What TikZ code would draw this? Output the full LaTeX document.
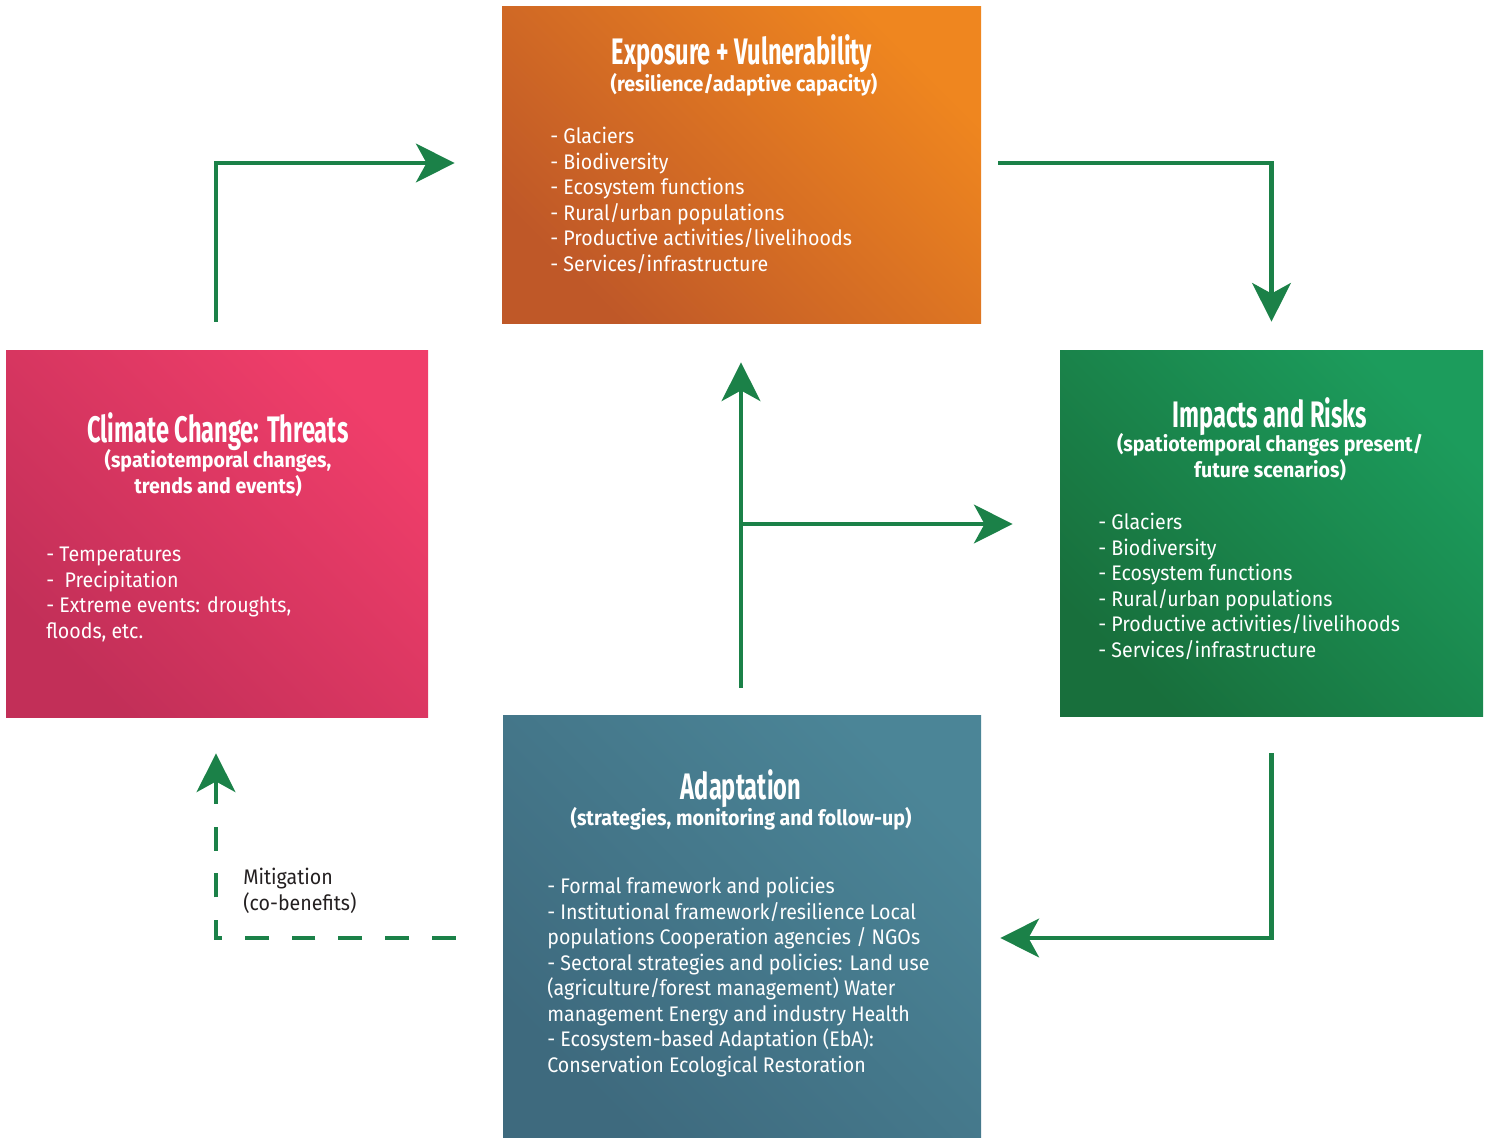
\documentclass[tikz,border=0pt]{standalone}
\usepackage{fontspec}
\setmainfont{Fira Sans}[FakeStretch=0.93]
\newfontfamily\headfont{Fira Sans}[FakeStretch=0.64]
\usetikzlibrary{arrows.meta, positioning, calc}
\definecolor{expolight}{HTML}{EF861F}
\definecolor{expodark}{HTML}{BF5828}
\definecolor{threatlight}{HTML}{F03E6A}
\definecolor{threatdark}{HTML}{C22F58}
\definecolor{impactlight}{HTML}{1C9C5C}
\definecolor{impactdark}{HTML}{186F3C}
\definecolor{adaptlight}{HTML}{4B8597}
\definecolor{adaptdark}{HTML}{3E6A7E}
\definecolor{arrowgreen}{HTML}{1B8148}
\definecolor{textdark}{HTML}{231F20}
\tikzset{
    cyclediagram/.style={x=0.02cm, y=-0.02cm, >={Stealth[length=22pt, width=22pt, inset=6pt]}},
    panel/.style 2 args={top color=#1, bottom color=#2, shading angle=-45, draw=none, inner sep=0pt},
    flow/.style={->, line width=2.3pt, draw=arrowgreen},
    % the mitigation loop is drawn dashed
    coflow/.style={flow, dash pattern=on 13.6pt off 13pt},
    % multi-line nodes sit on the baseline of their last line
    heading/.style={font=\headfont\bfseries\fontsize{21}{24}\selectfont, text=white, anchor=base, inner sep=0pt},
    subheading/.style={font=\bfseries\fontsize{12}{14.5}\selectfont, text=white, align=center, anchor=base, inner sep=0pt},
    items/.style={font=\fontsize{12}{14.5}\selectfont, text=white, align=left, anchor=base west, inner sep=0pt},
}
\begin{document}
\begin{tikzpicture}[cyclediagram]
    \useasboundingbox (0,0) rectangle (1491,1137);

    % panels
    \node[panel={expolight}{expodark}, minimum width=479*0.02cm, minimum height=317*0.02cm] (expo) at (741.5,164.5) {};
    \node[panel={threatlight}{threatdark}, minimum width=422*0.02cm, minimum height=367*0.02cm] (threat) at (217,533.5) {};
    \node[panel={impactlight}{impactdark}, minimum width=423*0.02cm, minimum height=366*0.02cm] (impact) at (1271.5,533) {};
    \node[panel={adaptlight}{adaptdark}, minimum width=478*0.02cm, minimum height=422*0.02cm] (adapt) at (742,926) {};

    % texts
    \node[heading] (expotitle) at (742,64) {Exposure + Vulnerability};
    \node[subheading] (exposub) at (744,91) {(resilience/adaptive capacity)};
    \node[items] (expolist) at (550,271) {- Glaciers\\- Biodiversity\\- Ecosystem functions\\- Rural/urban populations\\- Productive activities/livelihoods\\- Services/infrastructure};

    \node[heading] (threattitle) at (218,442) {Climate Change: Threats};
    \node[subheading] (threatsub) at (218,493) {(spatiotemporal changes,\\trends and events)};
    \node[items] (threatlist) at (46,638) {- Temperatures\\-\ \ Precipitation\\- Extreme events: droughts,\\floods, etc.};

    \node[heading] (impacttitle) at (1270,427) {Impacts and Risks};
    \node[subheading] (impactsub) at (1270,477) {(spatiotemporal changes present/\\future scenarios)};
    \node[items] (impactlist) at (1098,657) {- Glaciers\\- Biodiversity\\- Ecosystem functions\\- Rural/urban populations\\- Productive activities/livelihoods\\- Services/infrastructure};

    \node[heading] (adapttitle) at (741,799) {Adaptation};
    \node[subheading] (adaptsub) at (741,825) {(strategies, monitoring and follow-up)};
    \node[items] (adaptlist) at (547,1072) {- Formal framework and policies\\- Institutional framework/resilience Local\\populations Cooperation agencies / NGOs\\- Sectoral strategies and policies: Land use\\(agriculture/forest management) Water\\management Energy and industry Health\\- Ecosystem-based Adaptation (EbA):\\Conservation Ecological Restoration};

    \node[items, text=textdark] (mitig) at (243,910) {Mitigation\\(co-benefits)};

    % arrow ends
    \coordinate (a1) at ($(threat.north)+(-1,-28)$);
    \coordinate (a2) at ($(expo.west)+(-47,-1.5)$);
    \coordinate (b1) at ($(expo.east)+(17,-1.5)$);
    \coordinate (b2) at ($(impact.north)+(0,-28)$);
    \coordinate (c1) at ($(impact.south)+(0,37)$);
    \coordinate (c2) at ($(adapt.east)+(19,12)$);
    \coordinate (d1) at ($(adapt.north)+(-1,-27)$);
    \coordinate (d2) at ($(expo.south)+(-0.5,39)$);
    \coordinate (d3) at (d1 |- 0,524);
    \coordinate (d4) at ($(impact.west)+(-47,-9)$);
    \coordinate (m1) at ($(adapt.west)+(-47,12)$);
    \coordinate (m2) at ($(threat.south)+(-1,36)$);

    % connectors
    \draw[flow] (a1) |- (a2);
    \draw[flow] (b1) -| (b2);
    \draw[flow] (c1) |- (c2);
    \draw[flow] (d1) -- (d2);
    \draw[flow] (d3) -- (d4);
    \draw[coflow] (m1) -| (m2);
\end{tikzpicture}
\end{document}
